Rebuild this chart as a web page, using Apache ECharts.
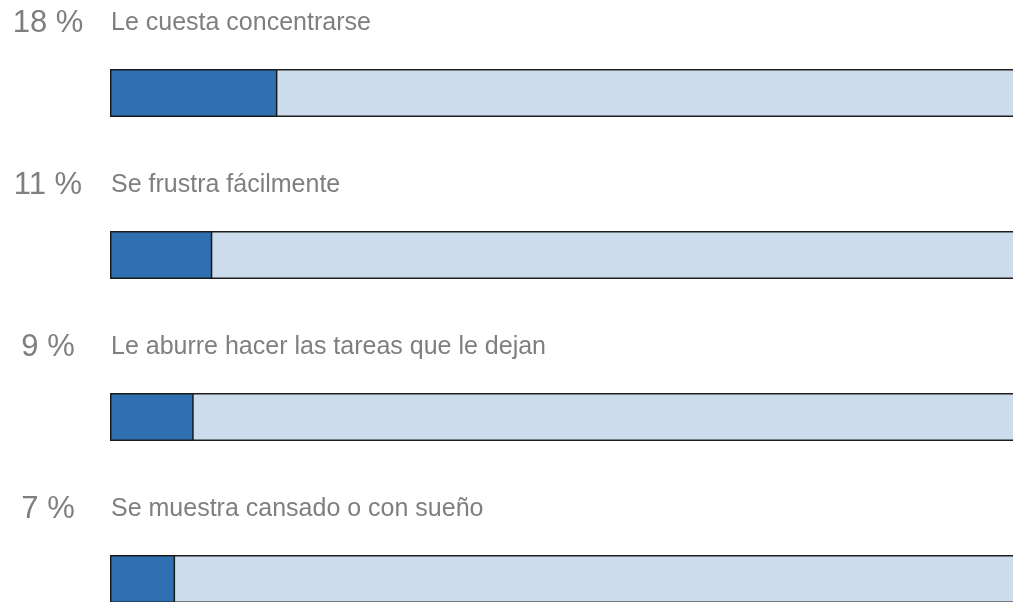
<!DOCTYPE html>
<html>
<head>
<meta charset="utf-8">
<script src="https://cdn.jsdelivr.net/npm/echarts@6/dist/echarts.min.js"></script>
<style>
html,body{margin:0;padding:0;background:#fff;}
#chart{width:1013px;height:602px;}
</style>
</head>
<body>
<div id="chart"></div>
<script>
var categories = ['Le cuesta concentrarse', 'Se frustra fácilmente', 'Le aburre hacer las tareas que le dejan', 'Se muestra cansado o con sueño'];
var values = [18, 11, 9, 7];
var totals = [100, 100, 100, 100];

var chart = echarts.init(document.getElementById('chart'), null, {renderer: 'canvas'});
chart.setOption({
  animation: false,
  backgroundColor: '#ffffff',
  grid: {left: 110, top: 12, width: 930, height: 648, containLabel: false, outerBoundsMode: 'none'},
  xAxis: {type: 'value', min: 0, max: 100, show: false},
  yAxis: {
    type: 'category',
    inverse: true,
    data: categories,
    axisLine: {show: false},
    axisTick: {show: false},
    splitLine: {show: false},
    axisLabel: {
      margin: 62,
      align: 'center',
      verticalAlign: 'bottom',
      lineHeight: 140,
      color: '#7f7f7f',
      fontFamily: 'Liberation Sans, Arial, sans-serif',
      fontSize: 31,
      formatter: function (v, i) { return values[i] + ' %'; }
    }
  },
  series: [
    {
      type: 'bar',
      data: totals,
      barWidth: 48,
      z: 1,
      silent: true,
      itemStyle: {color: '#cddcec', borderColor: '#1e1e1e', borderWidth: 1.5}
    },
    {
      type: 'bar',
      data: values,
      barWidth: 48,
      barGap: '-100%',
      z: 2,
      silent: true,
      itemStyle: {color: '#3070b0', borderColor: '#1a1a1a', borderWidth: 1.5},
      label: {
        show: true,
        position: [1, -45.5],
        align: 'left',
        verticalAlign: 'middle',
        color: '#7f7f7f',
        fontFamily: 'Liberation Sans, Arial, sans-serif',
        fontSize: 25,
        formatter: function (p) { return categories[p.dataIndex]; }
      }
    }
  ]
});
</script>
</body>
</html>
